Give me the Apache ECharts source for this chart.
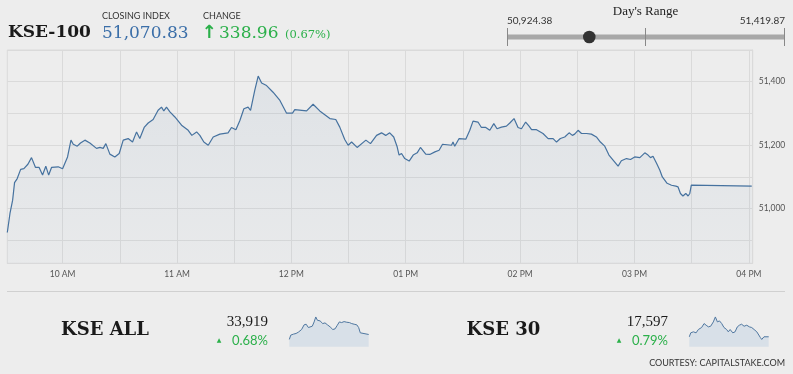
<!DOCTYPE html>
<html><head><meta charset="utf-8">
<script src="https://cdn.jsdelivr.net/npm/echarts@6/dist/echarts.min.js"></script>
<style>html,body{margin:0;padding:0;background:#ededed;}#c{width:793px;height:374px;}</style>
</head><body><div id="c"></div>
<script>
// ---- KSE-100 intraday (minutes since midnight, index value)
const mainTimes = [571,572.4,573.8,574.8,576.2,578,579.7,581.8,583.7,585.8,587.7,589.5,591.2,592.7,594.2,597.7,600,602.6,604.4,605.6,607.7,609.4,611.7,614.3,617.8,619.6,621.3,622.7,624.8,627.4,629.7,631.8,634.4,636.7,638.8,640.5,642.8,644.9,647.5,650.1,651.9,653.1,654.5,656.3,658.9,662.4,665.9,667.8,670.3,672,674.1,676.4,679,682.5,686.8,688.6,690.9,693,695.1,697.3,698.6,700.8,702.6,704.4,707,710.4,714,717.5,720.6,721.8,728,731.4,734.9,740.2,743.3,745.4,748,749.8,751.6,754.5,759.1,761.5,764.7,767.3,769.5,771.6,773.7,775.5,776.5,777.8,779.5,781.8,783.9,786,787.7,790.5,792.6,795.3,797.5,799.3,804,804.8,805.7,808,811.5,813.6,815.3,817.9,819.7,822,824.1,826.2,827.9,830.2,832.8,834.6,836.8,838.9,840.7,842.9,844.7,846,848.6,852,854.7,857.3,859.1,861.1,863.4,865.7,867.4,868.6,870.4,872.2,874.8,877.4,880,882.1,884.4,886.6,889.1,891.4,893.1,895.8,897.9,898.9,900.1,902.8,905.4,907.1,908.4,909.7,911.5,913.3,914.6,917.1,919.4,921.7,922.8,924.1,925.4,926.9,928.1,929,929.8,930.7,961.5];
const mainValues = [50925,50985,51027,51082,51095,51124,51126,51140,51161,51130,51130,51106,51134,51106,51130,51132,51126,51163,51216,51203,51197,51207,51216,51207,51190,51193,51190,51205,51172,51163,51174,51216,51221,51210,51242,51221,51256,51270,51281,51310,51320,51308,51320,51305,51289,51263,51247,51231,51242,51231,51210,51200,51226,51235,51239,51256,51249,51278,51315,51320,51310,51373,51418,51396,51388,51367,51341,51301,51301,51312,51308,51329,51308,51284,51281,51257,51218,51200,51210,51193,51216,51205,51231,51239,51231,51239,51226,51195,51169,51174,51158,51150,51169,51176,51193,51172,51171,51179,51184,51203,51200,51210,51197,51221,51219,51247,51276,51273,51256,51256,51247,51268,51252,51257,51260,51270,51284,51256,51252,51273,51260,51249,51249,51237,51221,51221,51210,51221,51226,51239,51231,51235,51247,51237,51237,51235,51226,51210,51197,51169,51151,51134,51151,51158,51155,51151,51163,51161,51176,51169,51161,51165,51144,51121,51100,51080,51074,51071,51069,51048,51040,51048,51040,51048,51074,51071,51071];

// ---- axes
const xGridValues = [600,630,660,690,720,750,780,810,840,870,900,930,960];
const xLabelValues = [600,660,720,780,840,900,960];
const xLabelTexts = ['10 AM','11 AM','12 PM','01 PM','02 PM','03 PM','04 PM'];
const yGridValues = [50900,51000,51100,51200,51300,51400,51500];
const yLabelValues = [51000,51200,51400];

// ---- header figures
const indexName = 'KSE-100';
const closingIndex = 51070.83;
const changeValue = 338.96;
const changePct = 0.67;
const dayLow = 50924.38;
const dayHigh = 51419.87;

// ---- KSE ALL sparkline
const allName = 'KSE ALL';
const allValue = '33,919';
const allPct = '0.68%';
const allTimes = [573,580,593,606,617,625,633,645,655,666,674,685,694,702,710,723,736,747,759,772,785,796,807,817,828,840,853,866,877,889,902,911,919,926,960];
const allValues = [33826,33907,33925,33938,33962,33950,34012,34099,34111,34049,34012,34074,34154,34247,34185,34173,34123,34136,34099,34061,34012,34024,34092,34154,34142,34160,34148,34142,34123,34111,34099,34049,33950,33919,33919];

// ---- KSE 30 sparkline
const k30Name = 'KSE 30';
const k30Value = '17,597';
const k30Pct = '0.79%';
const k30Times = [573,580,593,606,617,625,633,645,655,666,677,690,700,710,720,731,742,755,763,772,785,796,807,817,828,840,853,866,877,889,902,911,919,926,937,960];
const k30Values = [17597,17652,17666,17652,17698,17689,17726,17781,17758,17735,17744,17804,17873,17804,17818,17781,17726,17698,17666,17698,17652,17666,17735,17758,17772,17744,17758,17735,17726,17698,17666,17643,17588,17560,17597,17597];

const fmt = v => v.toLocaleString('en-US', {minimumFractionDigits: 2, maximumFractionDigits: 2});
const zip = (a, b) => a.map((t, i) => [t, b[i]]);

const chart = echarts.init(document.getElementById('c'), null, {renderer: 'canvas'});
const gridColor = '#dadada';
const lineBlue = '#46729f';
const green = '#2bb04a';

const rangeL = 507.3, rangeR = 784.7;
const dotX = rangeL + (closingIndex - dayLow) / (dayHigh - dayLow) * (rangeR - rangeL);

function sparkAxes(idx, tmin, tmax, vmin, vmax) {
  return {
    x: {type: 'value', gridIndex: idx, min: tmin, max: tmax, show: false},
    y: {type: 'value', gridIndex: idx, min: vmin, max: vmax, show: false}
  };
}
const s1 = sparkAxes(1, 570, 960, 33690, 34278);
const s2 = sparkAxes(2, 570, 960, 17459, 17896);

const option = {
  backgroundColor: '#ededed',
  animation: false,
  grid: [
    {left: 7.3, right: 40.3, top: 50, bottom: 110.7, show: true, borderColor: gridColor, borderWidth: 1, backgroundColor: 'transparent'},
    {left: 288.7, width: 80, top: 315.3, height: 31.4},
    {left: 688.7, width: 80, top: 315.3, height: 31.4}
  ],
  xAxis: [
    {type: 'value', gridIndex: 0, min: 571, max: 962,
     axisLine: {show: true, lineStyle: {color: gridColor}},
     axisTick: {show: false, customValues: xGridValues},
     splitLine: {show: true, lineStyle: {color: gridColor, width: 1}},
     axisLabel: {customValues: xLabelValues, margin: 6, color: '#555', fontFamily: 'Lato', fontSize: 8.5,
       formatter: v => xLabelTexts[xLabelValues.indexOf(v)] || ''}},
    s1.x, s2.x
  ],
  yAxis: [
    {type: 'value', gridIndex: 0, position: 'right', min: 50828, max: 51500,
     axisLine: {show: true, lineStyle: {color: gridColor}},
     axisTick: {show: false, customValues: yGridValues},
     splitLine: {show: true, lineStyle: {color: gridColor, width: 1}},
     axisLabel: {customValues: yLabelValues, margin: 6, color: '#555', fontFamily: 'Lato', fontSize: 8.5,
       formatter: v => v.toLocaleString('en-US')}},
    s1.y, s2.y
  ],
  series: [
    {type: 'line', xAxisIndex: 0, yAxisIndex: 0, data: zip(mainTimes, mainValues), showSymbol: false,
     lineStyle: {color: lineBlue, width: 1.2},
     areaStyle: {color: new echarts.graphic.LinearGradient(0, 0, 0, 1, [
       {offset: 0, color: 'rgba(70,114,159,0.12)'}, {offset: 1, color: 'rgba(70,114,159,0.04)'}])}},
    {type: 'line', xAxisIndex: 1, yAxisIndex: 1, data: zip(allTimes, allValues), showSymbol: false,
     lineStyle: {color: '#4f77a0', width: 1}, areaStyle: {color: '#d8e0e8', opacity: 1}},
    {type: 'line', xAxisIndex: 2, yAxisIndex: 2, data: zip(k30Times, k30Values), showSymbol: false,
     lineStyle: {color: '#4f77a0', width: 1}, areaStyle: {color: '#d8e0e8', opacity: 1}}
  ],
  graphic: [
    {type: 'text', x: 8, y: 33, style: {text: indexName, font: 'bold 17px "DejaVu Serif"', fill: '#1a1a1a', textAlign: 'left', textVerticalAlign: 'middle'}},
    {type: 'text', x: 102, y: 16, style: {text: 'CLOSING INDEX', font: '9px Lato', fill: '#333', textAlign: 'left', textVerticalAlign: 'middle'}},
    {type: 'text', x: 102, y: 33.5, style: {text: fmt(closingIndex), font: '17px "DejaVu Serif"', fill: '#3a6ea8', textAlign: 'left', textVerticalAlign: 'middle'}},
    {type: 'text', x: 203, y: 16, style: {text: 'CHANGE', font: '9px Lato', fill: '#333', textAlign: 'left', textVerticalAlign: 'middle'}},
    {type: 'text', x: 201.5, y: 33.5, style: {text: '↑', font: 'bold 18px "DejaVu Sans"', fill: green, textAlign: 'left', textVerticalAlign: 'middle'}},
    {type: 'text', x: 219, y: 33.5, style: {text: fmt(changeValue), font: '17px "DejaVu Serif"', fill: green, textAlign: 'left', textVerticalAlign: 'middle'}},
    {type: 'text', x: 285, y: 35, style: {text: '(' + changePct.toFixed(2) + '%)', font: '11.5px "DejaVu Serif"', fill: green, textAlign: 'left', textVerticalAlign: 'middle'}},
    {type: 'text', x: 645.5, y: 12, style: {text: "Day's Range", font: '13px "Liberation Serif"', fill: '#222', textAlign: 'center', textVerticalAlign: 'middle'}},
    {type: 'text', x: 507, y: 21, style: {text: fmt(dayLow), font: '10px Lato', fill: '#333', textAlign: 'left', textVerticalAlign: 'middle'}},
    {type: 'text', x: 785, y: 21, style: {text: fmt(dayHigh), font: '10px Lato', fill: '#333', textAlign: 'right', textVerticalAlign: 'middle'}},
    {type: 'rect', shape: {x: rangeL, y: 34.5, width: rangeR - rangeL, height: 5}, style: {fill: '#a8a8a8'}},
    {type: 'line', shape: {x1: 507.5, y1: 28, x2: 507.5, y2: 46}, style: {stroke: '#888', lineWidth: 1}},
    {type: 'line', shape: {x1: 645.5, y1: 28, x2: 645.5, y2: 46}, style: {stroke: '#888', lineWidth: 1}},
    {type: 'line', shape: {x1: 784.5, y1: 28, x2: 784.5, y2: 46}, style: {stroke: '#888', lineWidth: 1}},
    {type: 'circle', shape: {cx: dotX, cy: 37, r: 6.3}, style: {fill: '#333'}},
    {type: 'line', shape: {x1: 7, y1: 291.5, x2: 785, y2: 291.5}, style: {stroke: '#d0d0d0', lineWidth: 1}},
    {type: 'text', x: 61, y: 330.5, style: {text: allName, font: 'bold 18px "DejaVu Serif"', fill: '#1a1a1a', textAlign: 'left', textVerticalAlign: 'middle'}},
    {type: 'text', x: 268, y: 322, style: {text: allValue, font: '15px "Liberation Serif"', fill: '#1a1a1a', textAlign: 'right', textVerticalAlign: 'middle'}},
    {type: 'text', x: 219, y: 340, style: {text: '▲', font: '6px "DejaVu Sans"', fill: green, textAlign: 'center', textVerticalAlign: 'middle'}},
    {type: 'text', x: 268, y: 340.5, style: {text: allPct, font: '13px Lato', fill: green, textAlign: 'right', textVerticalAlign: 'middle'}},
    {type: 'text', x: 466.5, y: 330.5, style: {text: k30Name, font: 'bold 18px "DejaVu Serif"', fill: '#1a1a1a', textAlign: 'left', textVerticalAlign: 'middle'}},
    {type: 'text', x: 668, y: 322, style: {text: k30Value, font: '15px "Liberation Serif"', fill: '#1a1a1a', textAlign: 'right', textVerticalAlign: 'middle'}},
    {type: 'text', x: 619, y: 340, style: {text: '▲', font: '6px "DejaVu Sans"', fill: green, textAlign: 'center', textVerticalAlign: 'middle'}},
    {type: 'text', x: 668, y: 340.5, style: {text: k30Pct, font: '13px Lato', fill: green, textAlign: 'right', textVerticalAlign: 'middle'}},
    {type: 'text', x: 785, y: 363.5, style: {text: 'COURTESY: CAPITALSTAKE.COM', font: '9px Lato', fill: '#333', textAlign: 'right', textVerticalAlign: 'middle'}}
  ]
};
chart.setOption(option);
</script></body></html>
